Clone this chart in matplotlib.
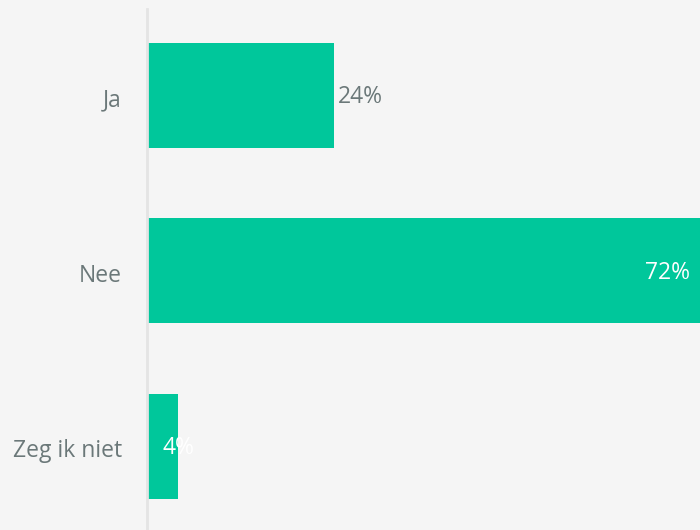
import matplotlib
matplotlib.use("Agg")
import matplotlib.pyplot as plt
from matplotlib.transforms import ScaledTranslation

categories = ["Ja", "Nee", "Zeg ik niet"]
values = [24, 72, 4]
label_inside = [False, True, True]

plt.rcParams['font.family'] = ['Open Sans', 'DejaVu Sans']

BG = '#f5f5f5'
BAR = '#00c79b'
TXT = '#6b7879'
FS = 16.5
XMAX = 71

fig = plt.figure(figsize=(7, 5.3), dpi=100, facecolor=BG)
ax = fig.add_axes([147/700, -4/530, 1 - 147/700, 526.5/530])
ax.set_facecolor(BG)

y = list(range(len(categories)))
ax.barh(y, values, height=0.6, color=BAR, zorder=2)
ax.set_xlim(0, XMAX)
ax.set_ylim(2.5, -0.5)
ax.set_yticks(y)
ax.set_yticklabels(categories, fontsize=FS, color=TXT)
ax.tick_params(axis='y', length=0, pad=18)
for lbl in ax.get_yticklabels():
    lbl.set_transform(lbl.get_transform() + ScaledTranslation(0, -1.5/72, fig.dpi_scale_trans))
ax.set_xticks([])
for s in ['top', 'right', 'bottom']:
    ax.spines[s].set_visible(False)
ax.spines['left'].set_color('#e4e4e4')
ax.spines['left'].set_linewidth(2)
ax.spines['left'].set_bounds(2.6, -0.49)

for yi, v, inside in zip(y, values, label_inside):
    txt = f"{v}%"
    if not inside:
        ax.annotate(txt, (v, yi), xytext=(3, -1.5), textcoords='offset points',
                    ha='left', va='center', fontsize=FS, color=TXT)
    elif v > 10:
        ax.annotate(txt, (min(v, XMAX), yi), xytext=(-7, -1.5), textcoords='offset points',
                    ha='right', va='center', fontsize=FS, color='white')
    else:
        ax.annotate(txt, (0, yi), xytext=(11, -1.5), textcoords='offset points',
                    ha='left', va='center', fontsize=FS, color='white')

fig.savefig("out.png", dpi=100, facecolor=BG)
